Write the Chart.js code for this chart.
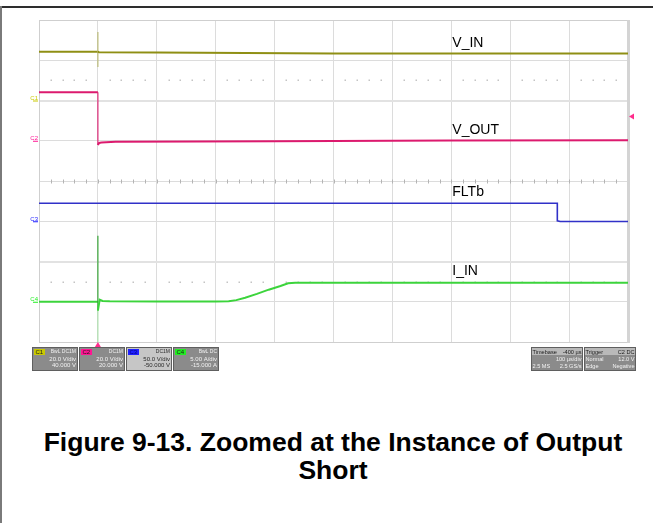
<!DOCTYPE html>
<html>
<head>
<meta charset="utf-8">
<script src="https://cdn.jsdelivr.net/npm/chart.js@4/dist/chart.umd.min.js"></script>
<style>
  html, body { margin: 0; padding: 0; background: #fff; }
  body { width: 653px; height: 523px; position: relative; overflow: hidden; font-family: "Liberation Sans", Arial, sans-serif; }
  #frameTop { position: absolute; left: 0; top: 6px; width: 653px; height: 2px; background: #2e2e2e; }
  #frameLeft { position: absolute; left: 0; top: 6px; width: 2px; height: 517px; background: #7a7a7a; }
  #scope { position: absolute; left: 0; top: 0; }
  #caption { position: absolute; left: 0; top: 428px; width: 666px; text-align: center;
    font: bold 26.5px "Liberation Sans", Arial, sans-serif; line-height: 28px; color: #000; }
</style>
</head>
<body>
<div id="frameTop"></div>
<div id="frameLeft"></div>
<canvas id="scope" width="653" height="380"></canvas>
<div id="caption">Figure 9-13. Zoomed at the Instance of Output<br>Short</div>
<script>
// Time axis: microseconds relative to the trigger (100 us/div, 10 divisions)
const timeRange = [-100, 900];

// Channel settings: C1 V_IN, C2 V_OUT, C3 FLTb, C4 I_IN
const channelNames = ['V_IN', 'V_OUT', 'FLTb', 'I_IN'];
const channelTags = ['C1', 'C2', 'C3', 'C4'];
const channelPerDiv = [20, 20, 50, 5];
const channelOffset = [40, 20, -50, -15];
const channelUnit = ['V', 'V', 'V', 'A'];
const channelCoupling = ['BwL DC1M', 'DC1M', 'DC1M', 'BwL DC'];

// V_IN (V)
const vinTime  = [-100, -40, 0, 0, 0, 0, 2, 100, 250, 400, 600, 900];
const vinVolts = [24.2, 24.2, 24.2, 34.0, 16.6, 24.2, 24.0, 23.9, 23.6, 23.4, 23.4, 23.4];

// V_OUT (V)
const voutTime  = [-100, 0, 0, 2, 6, 30, 300, 600, 900];
const voutVolts = [24.1, 24.1, -2.1, -1.1, -0.9, -0.5, -0.2, 0.1, 0.2];

// FLTb (V)
const fltTime  = [-100, 0, 780, 780, 785, 900];
const fltVolts = [22.4, 22.4, 22.4, 0.6, -0.3, -0.3];

// I_IN (A)
const iinTime = [-100, 0, 0, 0, 0, 0, 3, 8, 20, 100, 200, 222, 235, 250, 270, 290, 310, 323, 335, 500, 700, 900];
const iinAmps = [0.0, 0.0, 8.2, -1.1, -5.0, -1.1, 0.25, 0.1, 0.05, 0.03, 0.03, 0.05, 0.2, 0.5, 0.98, 1.5, 1.95, 2.3, 2.36, 2.35, 2.35, 2.35];

// Trigger settings
const triggerTime = 0;
const triggerLevel = 12.0;
const timebaseText = ['Timebase', '-400 \u00b5s', '100 \u00b5s/div', '2.5 MS', '2.5 GS/s'];
const triggerText = ['Trigger', 'C2 DC', 'Normal', '12.0 V', 'Edge', 'Negative'];

const traceColors = ['#8f8f14', '#dc1a6e', '#3131c8', '#3cd43c'];
const tagColors = ['#c9c900', '#ff1493', '#2020ff', '#22ee22'];

function pts(t, v) { return t.map((x, i) => ({ x: x, y: v[i] })); }

function channelAxis(i) {
  const center = -channelOffset[i];
  return { type: 'linear', display: false, min: center - 4 * channelPerDiv[i], max: center + 4 * channelPerDiv[i] };
}

// thin line for the vertical glitch segments at the trigger instant
const glitchWidth = c => (c.p0.parsed.x === c.p1.parsed.x && Math.abs(c.p0.parsed.y - c.p1.parsed.y) > 3) ? 1.1 : undefined;

// Grid decorations: center-line ticks, dotted rows, frame, markers, labels, readouts
const scopeDecor = {
  id: 'scopeDecor',
  beforeDatasetsDraw(chart) {
    const { ctx, chartArea: a, scales } = chart;
    const x = scales.x, g = scales.grid;
    ctx.save();
    ctx.strokeStyle = '#b4b4b4';
    ctx.lineWidth = 1;
    const yc = Math.round(g.getPixelForValue(0)) + 0.5;
    for (let t = timeRange[0]; t <= timeRange[1]; t += 20) {
      const px = Math.round(x.getPixelForValue(t)) + 0.5;
      ctx.beginPath(); ctx.moveTo(px, yc - 2); ctx.lineTo(px, yc + 2); ctx.stroke();
    }
    ctx.fillStyle = '#c4c4c4';
    [2.5, -2.5].forEach(d => {
      const py = Math.round(g.getPixelForValue(d));
      for (let t = timeRange[0]; t < timeRange[1]; t += 20) {
        if (t % 100 === 0) continue;
        const px = Math.round(x.getPixelForValue(t));
        ctx.fillRect(px - 0.5, py - 0.5, 1.5, 1.5);
      }
    });
    ctx.strokeStyle = '#cfcfcf';
    ctx.lineWidth = 1;
    ctx.strokeRect(a.left + 0.5, a.top + 0.5, a.right - a.left, a.bottom - a.top);
    ctx.fillStyle = '#d4d4d4';
    ctx.fillRect(a.right - 1, a.top, 3, a.bottom - a.top + 1);
    ctx.restore();
  },
  afterDraw(chart) {
    const { ctx, chartArea: a, scales } = chart;
    const x = scales.x;
    ctx.save();
    // ground markers on the left
    ctx.font = '6px "Liberation Sans", Arial, sans-serif';
    ctx.textAlign = 'right';
    ctx.textBaseline = 'middle';
    ['y1', 'y2', 'y3', 'y4'].forEach((id, i) => {
      const py = scales[id].getPixelForValue(0);
      ctx.fillStyle = tagColors[i];
      ctx.fillText(channelTags[i], a.left - 1, py - 2);
      ctx.fillRect(a.left - 6, py, 5, 1);
    });
    // trigger time marker (bottom) and trigger level marker (right)
    ctx.fillStyle = '#ff2d8c';
    const tx = x.getPixelForValue(triggerTime);
    ctx.beginPath(); ctx.moveTo(tx, a.bottom); ctx.lineTo(tx - 3, a.bottom + 5); ctx.lineTo(tx + 3, a.bottom + 5); ctx.closePath(); ctx.fill();
    const ly = scales.y2.getPixelForValue(triggerLevel);
    ctx.beginPath(); ctx.moveTo(a.right + 1, ly); ctx.lineTo(a.right + 6, ly - 3); ctx.lineTo(a.right + 6, ly + 3); ctx.closePath(); ctx.fill();

    // trace names
    ctx.fillStyle = '#000';
    ctx.font = '14px "Liberation Sans", Arial, sans-serif';
    ctx.textAlign = 'left';
    ctx.textBaseline = 'alphabetic';
    const nameTime = 600;
    const nameLevels = [vinVolts[vinVolts.length - 1], voutVolts[voutVolts.length - 1], fltVolts[0], iinAmps[iinAmps.length - 1]];
    const nameLift = [6, 6, 7, 8];
    ['y1', 'y2', 'y3', 'y4'].forEach((id, i) => {
      ctx.fillText(channelNames[i], x.getPixelForValue(nameTime) + 1, scales[id].getPixelForValue(nameLevels[i]) - nameLift[i]);
    });

    // channel readout boxes
    const boxY = 347, boxH = 24, boxW = 46;
    const boxX = [32, 79, 126, 173];
    const headFont = '5px "Liberation Sans", Arial, sans-serif';
    const bodyFont = '6px "Liberation Sans", Arial, sans-serif';
    channelTags.forEach((tag, i) => {
      const bx = boxX[i];
      const light = i === 2;
      ctx.fillStyle = light ? '#c6c6c6' : '#8b8b8b';
      ctx.strokeStyle = '#5f5f5f';
      ctx.lineWidth = 1;
      ctx.fillRect(bx, boxY, boxW, boxH);
      ctx.strokeRect(bx + 0.5, boxY + 0.5, boxW - 1, boxH - 1);
      ctx.fillStyle = tagColors[i];
      ctx.fillRect(bx + 2, boxY + 2, 11, 6);
      ctx.font = bodyFont;
      ctx.fillStyle = i === 2 ? '#000080' : '#1a1a1a';
      ctx.textAlign = 'left';
      ctx.textBaseline = 'middle';
      ctx.fillText(tag, bx + 3.5, boxY + 5.2);
      ctx.fillStyle = light ? '#2a2a2a' : '#f2f2f2';
      ctx.textAlign = 'right';
      ctx.font = headFont;
      ctx.fillText(channelCoupling[i], bx + boxW - 2, boxY + 5);
      ctx.font = bodyFont;
      ctx.fillText(channelPerDiv[i].toFixed(channelUnit[i] === 'A' ? 2 : 1) + ' ' + channelUnit[i] + '/div', bx + boxW - 2, boxY + 12.5);
      ctx.fillText(channelOffset[i].toFixed(3) + ' ' + channelUnit[i], bx + boxW - 2, boxY + 18.8);
    });

    // timebase and trigger boxes
    const tbX = 531, trX = 584, bw = 52;
    ctx.font = '5.6px "Liberation Sans", Arial, sans-serif';
    [[tbX, timebaseText], [trX, triggerText]].forEach(([bx, txt], k) => {
      ctx.fillStyle = '#8b8b8b';
      ctx.fillRect(bx, boxY, bw, boxH);
      ctx.fillStyle = '#b9b9b9';
      ctx.fillRect(bx + 1, boxY + 1, bw - 2, 7);
      ctx.strokeStyle = '#5f5f5f';
      ctx.strokeRect(bx + 0.5, boxY + 0.5, bw - 1, boxH - 1);
      ctx.textBaseline = 'middle';
      ctx.fillStyle = '#1a1a1a';
      ctx.textAlign = 'left';
      ctx.fillText(txt[0], bx + 1.5, boxY + 5);
      ctx.textAlign = 'right';
      ctx.fillText(txt[1], bx + bw - 1.5, boxY + 5);
      ctx.fillStyle = '#f2f2f2';
      if (k === 0) {
        ctx.fillText(txt[2], bx + bw - 1.5, boxY + 12.5);
        ctx.textAlign = 'left';  ctx.fillText(txt[3], bx + 1.5, boxY + 19);
        ctx.textAlign = 'right'; ctx.fillText(txt[4], bx + bw - 1.5, boxY + 19);
      } else {
        ctx.textAlign = 'left';  ctx.fillText(txt[2], bx + 1.5, boxY + 12.5);
        ctx.textAlign = 'right'; ctx.fillText(txt[3], bx + bw - 1.5, boxY + 12.5);
        ctx.textAlign = 'left';  ctx.fillText(txt[4], bx + 1.5, boxY + 19);
        ctx.textAlign = 'right'; ctx.fillText(txt[5], bx + bw - 1.5, boxY + 19);
      }
    });
    ctx.restore();
  }
};

new Chart(document.getElementById('scope'), {
  type: 'line',
  data: {
    datasets: [
      { label: channelNames[0], data: pts(vinTime, vinVolts), yAxisID: 'y1', borderColor: traceColors[0], borderWidth: 2,
        segment: { borderWidth: glitchWidth, borderColor: c => glitchWidth(c) ? '#b8b870' : undefined } },
      { label: channelNames[1], data: pts(voutTime, voutVolts), yAxisID: 'y2', borderColor: traceColors[1], borderWidth: 2,
        segment: { borderWidth: glitchWidth } },
      { label: channelNames[2], data: pts(fltTime, fltVolts), yAxisID: 'y3', borderColor: traceColors[2], borderWidth: 1.6 },
      { label: channelNames[3], data: pts(iinTime, iinAmps), yAxisID: 'y4', borderColor: traceColors[3], borderWidth: 2,
        segment: { borderColor: c => (c.p0.parsed.y < -1 && c.p1.parsed.y < -1) ? '#a8e0a8' : (glitchWidth(c) ? '#2aa02a' : undefined),
                   borderWidth: glitchWidth } }
    ]
  },
  options: {
    responsive: false,
    animation: false,
    events: [],
    layout: { padding: { left: 39, top: 20, right: 25, bottom: 38 } },
    elements: { point: { radius: 0 }, line: { tension: 0 } },
    plugins: { legend: { display: false }, tooltip: { enabled: false } },
    scales: {
      x: { type: 'linear', min: timeRange[0], max: timeRange[1],
           ticks: { display: false, stepSize: 100 },
           grid: { color: '#dcdcdc', drawTicks: false }, border: { display: false } },
      grid: { type: 'linear', position: 'left', min: -4, max: 4,
           ticks: { display: false, stepSize: 1 },
           grid: { color: c => Math.abs(c.tick.value) === 2 ? '#e2e2e2' : '#dcdcdc',
                   lineWidth: c => Math.abs(c.tick.value) === 2 ? 2 : 1, drawTicks: false },
           border: { display: false } },
      y1: channelAxis(0),
      y2: channelAxis(1),
      y3: channelAxis(2),
      y4: channelAxis(3)
    }
  },
  plugins: [scopeDecor]
});
</script>
</body>
</html>
